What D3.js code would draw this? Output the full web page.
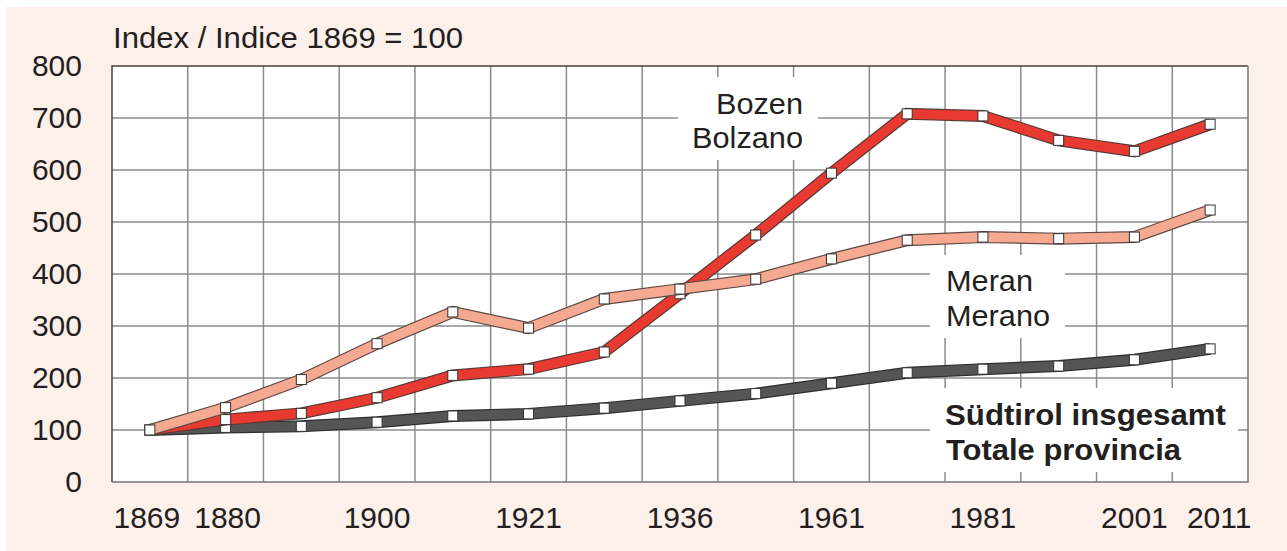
<!DOCTYPE html>
<html>
<head>
<meta charset="utf-8">
<script src="https://cdn.jsdelivr.net/npm/d3@7"></script>
<style>
  html, body { margin: 0; padding: 0; background: #ffffff; }
  svg { display: block; font-family: "Liberation Sans", Arial, sans-serif; }
</style>
</head>
<body>
<svg id="chart" width="1287" height="551"></svg>
<script>
// ---- Data ----
const years = ["1869","1880","1890","1900","1910","1921","1931","1936","1951","1961","1971","1981","1991","2001","2011"];
const labelYears = ["1869","1880","1900","1921","1936","1961","1981","2001","2011"];
const yTicks = [0,100,200,300,400,500,600,700,800];
const bozen  = [100,120,132,162,205,217,250,362,475,594,708,704,657,636,688];
const meran  = [100,143,197,266,327,296,352,371,390,429,465,471,468,471,523];
const total  = [100,105,107,115,127,131,142,156,170,190,210,217,223,235,256];
const titleText = "Index / Indice 1869 = 100";

const svg = d3.select("#chart");
const W = 1287, H = 551;
const plot = {left: 112, right: 1248, top: 66, bottom: 482};

// background
svg.append("rect").attr("x", 6).attr("y", 7).attr("width", W - 6).attr("height", H - 7)
  .attr("fill", "#fdefea");
svg.append("rect").attr("x", plot.left).attr("y", plot.top)
  .attr("width", plot.right - plot.left).attr("height", plot.bottom - plot.top)
  .attr("fill", "#ffffff");

const x = d3.scaleBand().domain(years).range([plot.left, plot.right]).padding(0);
const y = d3.scaleLinear().domain([0, 800]).range([plot.bottom, plot.top]);
const cx = d => x(d) + x.bandwidth() / 2;

// grid
const grid = svg.append("g").attr("stroke", "#8a8c8c").attr("stroke-width", 1.5);
years.slice(1).forEach(yr => {
  grid.append("line").attr("x1", x(yr)).attr("x2", x(yr))
    .attr("y1", plot.top).attr("y2", plot.bottom);
});
yTicks.filter(v => v > 0 && v < 800).forEach(v => {
  grid.append("line").attr("x1", plot.left).attr("x2", plot.right)
    .attr("y1", y(v)).attr("y2", y(v));
});
// border
svg.append("path")
  .attr("d", `M${plot.left},${plot.bottom}V${plot.top}H${plot.right}`)
  .attr("fill", "none").attr("stroke", "#444").attr("stroke-width", 1.5);
svg.append("path")
  .attr("d", `M${plot.right},${plot.top}V${plot.bottom}H${plot.left}`)
  .attr("fill", "none").attr("stroke", "#777").attr("stroke-width", 1.5);

// label masks (white boxes hiding the grid)
svg.append("rect").attr("x", 678).attr("y", 77).attr("width", 140).attr("height", 83).attr("fill", "#fff");
svg.append("rect").attr("x", 930).attr("y", 255).attr("width", 135).attr("height", 83).attr("fill", "#fff");
svg.append("rect").attr("x", 930).attr("y", 388).attr("width", 308).attr("height", 84).attr("fill", "#fff");

// series
const line = d3.line().x((d, i) => cx(years[i])).y(d => y(d)).curve(d3.curveLinear);
const series = [
  {vals: total, fill: "#555555", edge: "#2e2e2e"},
  {vals: bozen, fill: "#e83a30", edge: "#5a3a36"},
  {vals: meran, fill: "#f5a990", edge: "#5e4a44"}
];
series.forEach(s => {
  const g = svg.append("g");
  g.append("path").attr("d", line(s.vals)).attr("fill", "none")
    .attr("stroke", s.edge).attr("stroke-width", 12).attr("stroke-linejoin", "miter")
    .attr("stroke-linecap", "butt");
  g.append("path").attr("d", line(s.vals)).attr("fill", "none")
    .attr("stroke", s.fill).attr("stroke-width", 9.6).attr("stroke-linejoin", "miter")
    .attr("stroke-linecap", "butt");
  g.selectAll("rect").data(s.vals).join("rect")
    .attr("x", (d, i) => cx(years[i]) - 5)
    .attr("y", d => y(d) - 5)
    .attr("width", 10).attr("height", 10)
    .attr("fill", "#ffffff").attr("stroke", "#333").attr("stroke-width", 1);
});

// y axis
const yAxis = d3.axisLeft(y).tickValues(yTicks).tickSize(0).tickPadding(30);
const ya = svg.append("g").attr("transform", `translate(${plot.left},0)`).call(yAxis);
ya.select(".domain").remove();
ya.selectAll("text").attr("font-size", 30).attr("fill", "#231f20")
  .attr("font-family", "Liberation Sans, Arial, sans-serif");

// x labels
const xl = svg.append("g");
labelYears.forEach(yr => {
  xl.append("text")
    .attr("x", cx(yr) + (yr === "2011" ? 9 : yr === "1869" ? -3 : yr === "1880" ? 2 : 0))
    .attr("y", 528)
    .attr("text-anchor", "middle")
    .attr("font-size", 30).attr("fill", "#231f20")
    .text(yr);
});

// title
svg.append("text").attr("x", 113).attr("y", 48)
  .attr("font-size", 29).attr("fill", "#231f20")
  .attr("textLength", 350).attr("lengthAdjust", "spacingAndGlyphs")
  .text(titleText);

// series labels
const lab = (txt, xp, yp, anchor, bold, len) => svg.append("text")
  .attr("x", xp).attr("y", yp).attr("text-anchor", anchor)
  .attr("font-size", 30).attr("font-weight", bold ? "bold" : "normal")
  .attr("textLength", len).attr("lengthAdjust", "spacingAndGlyphs")
  .attr("fill", "#231f20").text(txt);
lab("Bozen", 803, 114, "end", false, 87);
lab("Bolzano", 803, 148, "end", false, 111);
lab("Meran", 946, 291, "start", false, 87);
lab("Merano", 946, 326, "start", false, 104);
lab("Südtirol insgesamt", 945, 425, "start", true, 281);
lab("Totale provincia", 946, 460, "start", true, 235);
</script>
</body>
</html>
